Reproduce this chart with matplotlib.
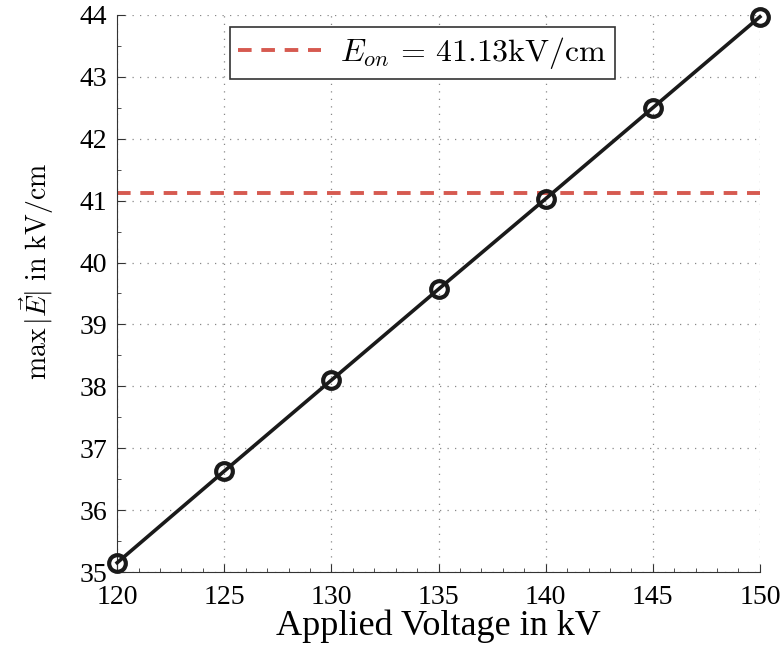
import numpy as np
import matplotlib
matplotlib.use("Agg")
import matplotlib.pyplot as plt
from matplotlib.ticker import MultipleLocator

voltage = [120, 125, 130, 135, 140, 145, 150]
emax = [35.15, 36.63, 38.10, 39.57, 41.03, 42.50, 43.97]
e_on = 41.13

plt.rcParams['font.family'] = ['Liberation Serif', 'DejaVu Serif']
plt.rcParams['mathtext.fontset'] = 'cm'

fig = plt.figure(figsize=(7.81, 6.5), dpi=100)
ax = fig.add_axes([0.150, 0.120, 0.823, 0.857])

ax.plot([120, 150], [e_on, e_on], ls=(0, (3.5, 2.5)), color='#d65a50', lw=2.8,
        label=r'$E_{on}\,=\,41.13\mathrm{kV/cm}$', zorder=2)
ax.plot(voltage, emax, color='#1a1a1a', lw=2.6, marker='o', ms=12,
        mfc='none', mec='#1a1a1a', mew=3, zorder=3, clip_on=False)

ax.set_xlim(120, 150)
ax.set_ylim(35, 44)
ax.xaxis.set_major_locator(MultipleLocator(5))
ax.xaxis.set_minor_locator(MultipleLocator(1))
ax.yaxis.set_major_locator(MultipleLocator(1))
ax.yaxis.set_minor_locator(MultipleLocator(0.5))
ax.tick_params(which='both', direction='in', labelsize=20, color='#333333')
ax.tick_params(which='major', length=6)
ax.tick_params(axis='x', pad=9)
ax.tick_params(axis='y', pad=7)
ax.tick_params(which='minor', length=3)
ax.grid(True, which='major', ls=(0, (1, 5)), color='#888888', lw=0.9)

for s in ['top', 'right']:
    ax.spines[s].set_visible(False)
for s in ['left', 'bottom']:
    ax.spines[s].set_color('#333333')

ax.set_xlabel('Applied Voltage in kV', fontsize=26, labelpad=0)
ax.set_ylabel(r'$\max\,|\vec{E}|\ \mathrm{in\ kV/cm}$', fontsize=20)
ax.yaxis.set_label_coords(-0.095, 0.54)

leg = ax.legend(loc='upper center', bbox_to_anchor=(0.475, 0.978), fontsize=23,
                fancybox=False, edgecolor='#333333', framealpha=1,
                handlelength=2.6, borderpad=0.25, handletextpad=0.6,
                borderaxespad=0)
leg.get_frame().set_linewidth(1.2)

fig.savefig('out.png', dpi=100)
